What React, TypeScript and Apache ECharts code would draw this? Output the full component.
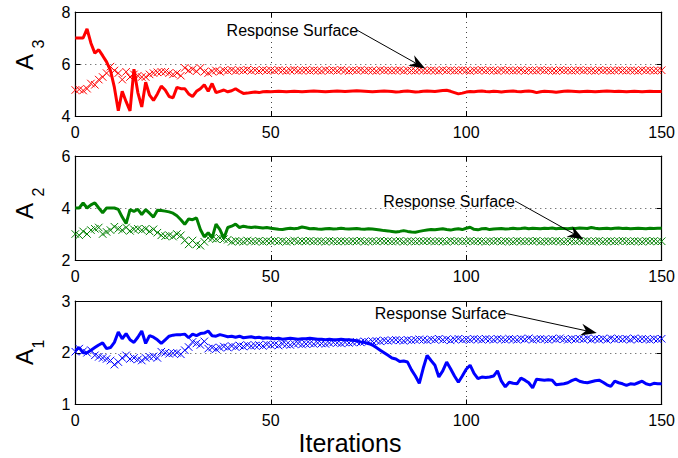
import React, { useEffect, useRef } from "react";
import * as echarts from "echarts";

const FONT = "'Liberation Sans', Arial, Helvetica, sans-serif";

const xTicks = { min: 0, max: 150, interval: 50 };
const yRanges = [
  { min: 4, max: 8, interval: 2 },
  { min: 2, max: 6, interval: 2 },
  { min: 1, max: 3, interval: 1 },
];
const yNames = [
  { main: "A", sub: "3" },
  { main: "A", sub: "2" },
  { main: "A", sub: "1" },
];
const xName = "Iterations";
const colors = ["#ff0000", "#008000", "#0000ff"];

// A3 (top panel)
const a3Solid = [
  7.0, 7.0, 7.0, 7.35, 6.8, 6.42, 6.55, 6.32, 6.08, 5.75, 5.1, 4.2, 4.95, 4.55, 4.2, 5.8, 4.9, 4.35, 5.3, 4.8,
  4.6, 4.85, 5.15, 5.0, 4.75, 4.7, 5.1, 5.05, 5.05, 4.85,
  4.75, 4.95, 5.05, 5.2, 4.95, 5.25, 4.9, 4.95, 5.0, 4.93,
  4.97, 5.05, 4.95, 4.87, 4.88, 4.9, 4.92, 4.9, 4.93, 4.94,
  4.93, 4.94, 4.95, 4.94, 4.93, 4.94, 4.95, 4.94, 4.93, 4.94,
  4.95, 4.96, 4.95, 4.94, 4.93, 4.94, 4.95, 4.96, 4.95, 4.94,
  4.95, 4.96, 4.97, 4.96, 4.95, 4.94, 4.93, 4.94, 4.95, 4.96,
  4.95, 4.94, 4.92, 4.93, 4.95, 4.96, 4.94, 4.92, 4.93, 4.95,
  4.96, 4.95, 4.94, 4.96, 4.98, 4.99, 4.95, 4.9, 4.85, 4.88,
  4.92, 4.94, 4.93, 4.95, 4.96, 4.94, 4.93, 4.95, 4.94, 4.92,
  4.94, 4.95, 4.96, 4.94, 4.93, 4.95, 4.96, 4.94, 4.9, 4.93,
  4.95, 4.94, 4.93, 4.91, 4.93, 4.95, 4.96, 4.95, 4.94, 4.93,
  4.94, 4.95, 4.94, 4.93, 4.94, 4.95, 4.96, 4.95, 4.94, 4.95,
  4.94, 4.93, 4.94, 4.95, 4.94, 4.93, 4.94, 4.95, 4.94, 4.94,
  4.94,
];
const a3Cross = [
  5.0, 5.02, 4.98, 5.05, 5.25, 5.2, 5.4, 5.5, 5.65, 5.9, 5.75, 5.65, 5.4, 5.7, 5.5, 5.6, 5.55, 5.5, 5.5, 5.6,
  5.65, 5.68, 5.7, 5.7, 5.65, 5.6, 5.65, 5.55, 5.85, 5.75,
  5.8, 5.72, 5.85, 5.7, 5.65, 5.72, 5.75, 5.7, 5.76, 5.74,
  5.77, 5.73, 5.76, 5.75, 5.78, 5.74, 5.76, 5.73, 5.77, 5.75,
  5.76, 5.74, 5.77, 5.75, 5.73, 5.76, 5.78, 5.74, 5.75, 5.77,
  5.74, 5.76, 5.75, 5.73, 5.77, 5.75, 5.76, 5.74, 5.78, 5.75,
  5.73, 5.76, 5.75, 5.77, 5.74, 5.76, 5.75, 5.73, 5.77, 5.75,
  5.76, 5.74, 5.75, 5.77, 5.73, 5.76, 5.75, 5.74, 5.77, 5.75,
  5.74, 5.76, 5.75, 5.73, 5.77, 5.75, 5.76, 5.74, 5.75, 5.77,
  5.75, 5.73, 5.76, 5.75, 5.77, 5.74, 5.76, 5.75, 5.73, 5.77,
  5.75, 5.76, 5.74, 5.75, 5.77, 5.73, 5.76, 5.75, 5.74, 5.77,
  5.75, 5.76, 5.74, 5.73, 5.77, 5.75, 5.76, 5.74, 5.75, 5.77,
  5.74, 5.76, 5.75, 5.73, 5.77, 5.75, 5.76, 5.74, 5.75, 5.77,
  5.75, 5.74, 5.76, 5.75, 5.73, 5.77, 5.75, 5.76, 5.74, 5.75,
  5.76,
];

// A2 (middle panel)
const a2Solid = [
  4.0, 4.0, 4.2, 4.0, 4.12, 4.2, 4.0, 3.82, 4.0, 4.0, 4.0, 3.95, 3.65, 3.4, 3.94, 3.87, 3.95, 3.75, 3.94, 3.8,
  3.65, 3.91, 3.9, 3.88, 3.85, 3.8, 3.7, 3.55, 3.37, 3.58,
  3.55, 3.62, 3.17, 2.89, 3.05, 2.85, 3.38, 3.17, 2.83, 3.25,
  3.3, 3.38, 3.25, 3.3, 3.27, 3.25, 3.27, 3.25, 3.23, 3.25,
  3.22, 3.2, 3.18, 3.17, 3.2, 3.22, 3.2, 3.22, 3.27, 3.24,
  3.2, 3.21, 3.19, 3.18, 3.2, 3.21, 3.19, 3.2, 3.22, 3.2,
  3.19, 3.2, 3.21, 3.19, 3.18, 3.2, 3.19, 3.17, 3.15, 3.13,
  3.12, 3.1, 3.08, 3.1, 3.13, 3.1, 3.08, 3.07, 3.1, 3.13,
  3.15, 3.17, 3.16, 3.18, 3.2, 3.17, 3.15, 3.18, 3.2, 3.17,
  3.22, 3.26, 3.18, 3.16, 3.2, 3.21, 3.17, 3.19, 3.2, 3.21,
  3.19, 3.2, 3.22, 3.2, 3.21, 3.23, 3.2, 3.22, 3.21, 3.2,
  3.22, 3.21, 3.23, 3.2, 3.22, 3.21, 3.2, 3.22, 3.21, 3.23,
  3.22, 3.21, 3.25, 3.22, 3.2, 3.21, 3.22, 3.2, 3.22, 3.23,
  3.21, 3.22, 3.2, 3.21, 3.22, 3.21, 3.2, 3.22, 3.21, 3.22,
  3.22,
];
const a2Cross = [
  3.0, 2.95, 3.1, 3.0, 3.15, 3.2, 3.25, 3.0, 3.08, 3.15, 3.28, 3.2, 3.15, 3.25, 3.12, 3.18, 3.2, 3.15, 3.2, 3.1,
  3.18, 3.05, 2.95, 2.92, 2.95, 2.9, 3.0, 2.95, 2.75, 2.6,
  2.75, 2.6, 2.55, 2.7, 2.85, 2.83, 2.8, 2.85, 2.8, 2.78,
  2.7, 2.74, 2.72, 2.7, 2.75, 2.72, 2.71, 2.74, 2.7, 2.73,
  2.72, 2.74, 2.71, 2.73, 2.7, 2.72, 2.75, 2.71, 2.73, 2.72,
  2.74, 2.71, 2.73, 2.72, 2.7, 2.74, 2.72, 2.71, 2.73, 2.72,
  2.71, 2.73, 2.72, 2.74, 2.7, 2.72, 2.73, 2.71, 2.74, 2.72,
  2.73, 2.71, 2.72, 2.74, 2.7, 2.73, 2.72, 2.71, 2.73, 2.72,
  2.74, 2.72, 2.71, 2.73, 2.72, 2.7, 2.74, 2.72, 2.73, 2.71,
  2.72, 2.74, 2.71, 2.73, 2.72, 2.7, 2.73, 2.72, 2.74, 2.71,
  2.73, 2.72, 2.7, 2.74, 2.72, 2.71, 2.73, 2.72, 2.74, 2.7,
  2.72, 2.73, 2.71, 2.74, 2.72, 2.7, 2.73, 2.72, 2.71, 2.74,
  2.72, 2.73, 2.71, 2.72, 2.74, 2.7, 2.72, 2.73, 2.71, 2.72,
  2.74, 2.72, 2.71, 2.73, 2.72, 2.7, 2.74, 2.72, 2.73, 2.71,
  2.72,
];

// A1 (bottom panel)
const a1Solid = [
  2.05, 2.1, 2.0, 2.0, 2.05, 2.1, 2.15, 2.19, 2.08, 2.1, 2.2, 2.4, 2.27, 2.37, 2.25, 2.2, 2.3, 2.42, 2.18, 2.33,
  2.3, 2.25, 2.18, 2.25, 2.32, 2.34, 2.35, 2.35, 2.36, 2.29,
  2.36, 2.33, 2.37, 2.38, 2.42, 2.33, 2.32, 2.35, 2.33, 2.31,
  2.32, 2.3, 2.32, 2.29, 2.3, 2.31, 2.29, 2.3, 2.28, 2.29,
  2.28, 2.27, 2.28, 2.26, 2.27, 2.28, 2.27, 2.26, 2.27, 2.27,
  2.28, 2.27, 2.26, 2.26, 2.25, 2.26, 2.25, 2.25, 2.26, 2.25,
  2.25, 2.24, 2.23, 2.21, 2.2, 2.18, 2.15, 2.1, 2.05, 2.0,
  1.95, 1.9, 1.88, 1.83, 1.84, 1.82, 1.67, 1.55, 1.41, 1.7,
  1.95, 1.85, 1.76, 1.53, 1.65, 1.82, 1.69, 1.55, 1.43, 1.55,
  1.68, 1.76, 1.6, 1.5, 1.53, 1.52, 1.53, 1.55, 1.65, 1.45,
  1.34, 1.43, 1.41, 1.4, 1.51, 1.47, 1.42, 1.32, 1.49, 1.48,
  1.47, 1.48, 1.47, 1.38, 1.39, 1.4, 1.42, 1.46, 1.49, 1.45,
  1.43, 1.42, 1.44, 1.46, 1.47, 1.43, 1.38, 1.35, 1.45, 1.42,
  1.4, 1.37, 1.4, 1.39, 1.42, 1.45, 1.4, 1.38, 1.41, 1.4,
  1.4,
];
const a1Cross = [
  2.02, 2.08, 2.03, 2.0, 2.05, 1.95, 1.92, 1.9, 1.88, 1.85, 1.77, 1.82, 1.9, 1.95, 1.88, 1.9, 1.87, 1.85, 1.9, 1.92,
  1.93, 1.9, 2.02, 2.0, 1.98, 1.99, 2.0, 1.97, 2.05, 2.11,
  2.21, 2.18, 2.15, 2.22, 2.08, 2.1, 2.07, 2.1, 2.12, 2.1,
  2.13, 2.11, 2.14, 2.12, 2.15, 2.13, 2.14, 2.15, 2.13, 2.16,
  2.15, 2.16, 2.14, 2.17, 2.16, 2.15, 2.17, 2.18, 2.16, 2.17,
  2.18, 2.17, 2.19, 2.18, 2.17, 2.19, 2.2, 2.19, 2.18, 2.2,
  2.19, 2.2, 2.21, 2.2, 2.22, 2.21, 2.22, 2.23, 2.22, 2.24,
  2.23, 2.24, 2.25, 2.24, 2.23, 2.25, 2.24, 2.25, 2.26, 2.25,
  2.24, 2.26, 2.25, 2.27, 2.25, 2.26, 2.24, 2.26, 2.27, 2.25,
  2.26, 2.25, 2.27, 2.26, 2.25, 2.27, 2.26, 2.25, 2.27, 2.26,
  2.25, 2.27, 2.26, 2.25, 2.27, 2.26, 2.28, 2.25, 2.26, 2.27,
  2.26, 2.25, 2.27, 2.26, 2.28, 2.26, 2.25, 2.27, 2.26, 2.27,
  2.26, 2.28, 2.25, 2.27, 2.26, 2.27, 2.25, 2.28, 2.26, 2.27,
  2.26, 2.27, 2.25, 2.28, 2.26, 2.27, 2.26, 2.25, 2.27, 2.26,
  2.27,
];

const panels = [
  { solid: a3Solid, cross: a3Cross },
  { solid: a2Solid, cross: a2Cross },
  { solid: a1Solid, cross: a1Cross },
];

// annotation: text start, arrow start, arrow tip (data coords)
const annotations = [
  { panel: 0, text: "Response Surface", textAt: [38.7, 7.28], from: [72.0, 7.31], to: [89.5, 5.83] },
  { panel: 1, text: "Response Surface", textAt: [78.8, 4.24], from: [112.5, 4.27], to: [130.0, 2.8] },
  { panel: 2, text: "Response Surface", textAt: [76.6, 2.757], from: [110.2, 2.76], to: [133.4, 2.38] },
];

const gridBoxes = [
  { top: 12, height: 104 },
  { top: 156, height: 104 },
  { top: 301, height: 103.5 },
];
// vertical centres (px) of the rotated y-label parts
const labelCentres = [
  { a: 62, s: 44 },
  { a: 211, s: 192 },
  { a: 357, s: 344 },
];

const CROSS = "path://M0,0L10,10M10,0L0,10";

export default function App() {
  const ref = useRef<HTMLDivElement>(null);
  useEffect(() => {
    if (!ref.current) return;
    const chart = echarts.init(ref.current, null, { renderer: "svg" });
    const axisLine = { show: true, onZero: false, lineStyle: { color: "#000", width: 1.2 } };
    const axisTick = { show: true, inside: true, length: 5, lineStyle: { color: "#000", width: 1 } };
    const split = { show: true, lineStyle: { color: "#444", type: [1, 4], width: 1 } };
    const grids: any[] = gridBoxes.map((b) => ({ left: 75.3, right: 16.3, top: b.top, height: b.height, show: false }));
    const xAxis: any[] = [];
    const yAxis: any[] = [];
    gridBoxes.forEach((_, g) => {
      xAxis.push({
        type: "value", gridIndex: g, position: "bottom", ...xTicks,
        axisLine, axisTick,
        axisLabel: { color: "#000", fontSize: 16, fontFamily: FONT, margin: 8 },
        splitLine: split,
      });
      xAxis.push({
        type: "value", gridIndex: g, position: "top", ...xTicks,
        axisLine, axisTick, axisLabel: { show: false }, splitLine: { show: false },
      });
      yAxis.push({
        type: "value", gridIndex: g, position: "left", ...yRanges[g],
        axisLine, axisTick,
        axisLabel: { color: "#000", fontSize: 16, fontFamily: FONT, margin: 5 },
        splitLine: split,
      });
      yAxis.push({
        type: "value", gridIndex: g, position: "right", ...yRanges[g],
        axisLine, axisTick, axisLabel: { show: false }, splitLine: { show: false },
      });
    });
    // hidden helper grids that carry the rotated y-axis titles (main letter + subscript)
    const hidden = { axisLine: { show: false }, axisTick: { show: false }, axisLabel: { show: false }, splitLine: { show: false } };
    yNames.forEach((n, g) => {
      const parts = [
        { text: n.main, centre: labelCentres[g].a, size: 24, gap: 39 },
        { text: n.sub, centre: labelCentres[g].s, size: 16, gap: 29 },
      ];
      parts.forEach((p) => {
        const gi = grids.length;
        grids.push({ left: 75.3, right: 16.3, top: p.centre - 1, height: 2, show: false });
        xAxis.push({ type: "value", gridIndex: gi, min: 0, max: 1, ...hidden });
        yAxis.push({
          type: "value", gridIndex: gi, position: "left", min: 0, max: 1, ...hidden,
          name: p.text, nameLocation: "middle", nameRotate: 90, nameGap: p.gap,
          nameTextStyle: { color: "#000", fontFamily: FONT, fontSize: p.size },
        });
      });
    });
    const series: any[] = [];
    panels.forEach((p, g) => {
      series.push({
        type: "scatter",
        xAxisIndex: 2 * g,
        yAxisIndex: 2 * g,
        data: p.cross.map((v, i) => [i, v]),
        symbol: CROSS,
        symbolSize: 7.5,
        itemStyle: { color: "rgba(0,0,0,0)", borderColor: colors[g], borderWidth: 1, opacity: 1 },
        z: 2,
      });
      series.push({
        type: "line",
        xAxisIndex: 2 * g,
        yAxisIndex: 2 * g,
        data: p.solid.map((v, i) => [i, v]),
        showSymbol: false,
        lineStyle: { color: colors[g], width: 3 },
        z: 3,
      });
    });
    chart.setOption({
      animation: false,
      backgroundColor: "#fff",
      grid: grids,
      xAxis,
      yAxis,
      series,
    });

    const graphics: any[] = [];
    graphics.push({
      type: "text", x: 350, y: 442.5,
      style: { text: xName, fontSize: 25, fontFamily: FONT, fill: "#000", align: "center", verticalAlign: "middle", textAlign: "center", textVerticalAlign: "middle" },
    });
    annotations.forEach((a) => {
      const finder = { xAxisIndex: 2 * a.panel, yAxisIndex: 2 * a.panel };
      const t = chart.convertToPixel(finder, a.textAt) as number[];
      const s = chart.convertToPixel(finder, a.from) as number[];
      const e = chart.convertToPixel(finder, a.to) as number[];
      const dx = e[0] - s[0];
      const dy = e[1] - s[1];
      const len = Math.sqrt(dx * dx + dy * dy);
      const ux = dx / len, uy = dy / len;
      const nx = -uy, ny = ux;
      const L = 16, W = 6, notch = 5;
      const bx = e[0] - L * ux, by = e[1] - L * uy;
      const mx = e[0] - (L - notch) * ux, my = e[1] - (L - notch) * uy;
      graphics.push({
        type: "text", x: t[0], y: t[1],
        style: { text: a.text, fontSize: 16, fontFamily: FONT, fill: "#000", align: "left", verticalAlign: "middle", textAlign: "left", textVerticalAlign: "middle" },
        z: 10,
      });
      graphics.push({
        type: "line",
        shape: { x1: s[0], y1: s[1], x2: mx, y2: my },
        style: { stroke: "#000", lineWidth: 1 },
        z: 10,
      });
      graphics.push({
        type: "polygon",
        shape: { points: [[e[0], e[1]], [bx + W * nx, by + W * ny], [mx, my], [bx - W * nx, by - W * ny]] },
        style: { fill: "#000" },
        z: 10,
      });
    });
    chart.setOption({ graphic: graphics });
    return () => chart.dispose();
  }, []);
  return (
    <div
      ref={ref}
      style={{ position: "fixed", left: 0, top: 0, width: 678, height: 458, background: "#fff" }}
    />
  );
}
